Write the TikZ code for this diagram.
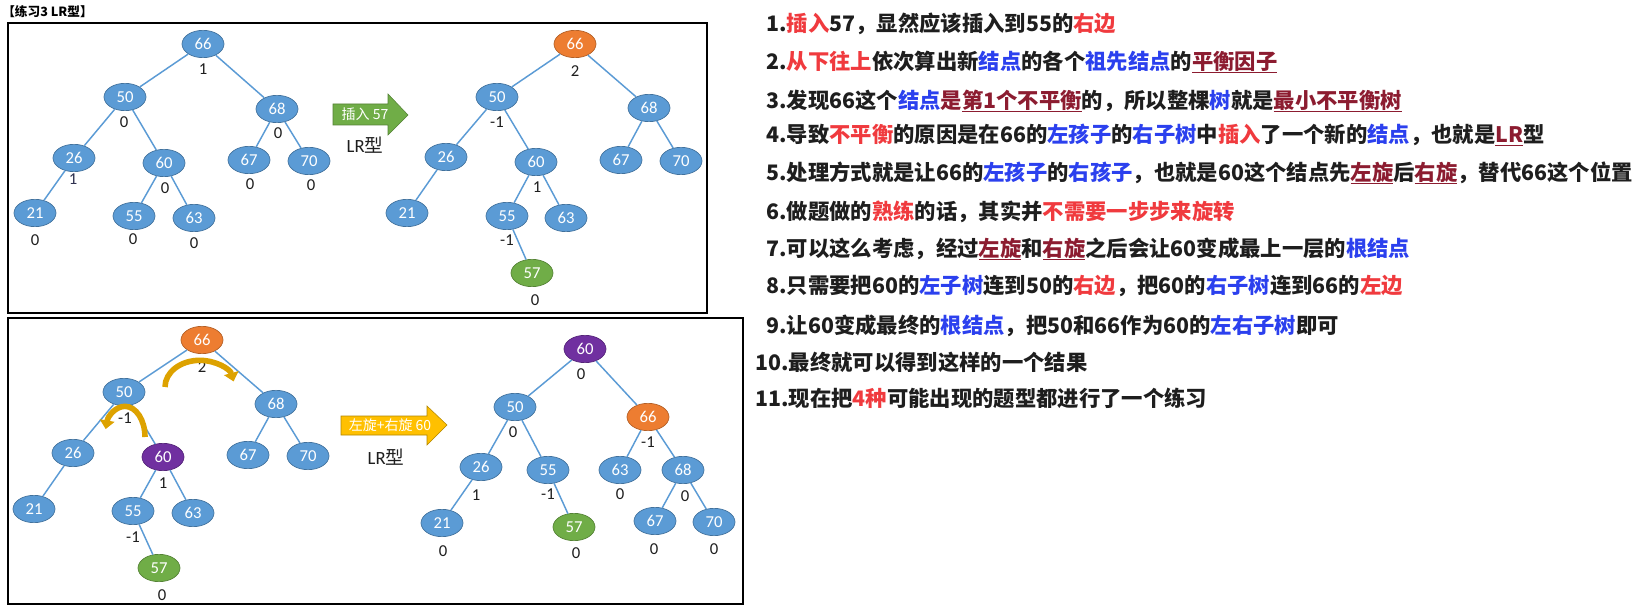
\documentclass[tikz,border=0pt]{standalone}
\usepackage{fontspec}
\setmainfont{Carlito}
\newfontfamily\cjk{Noto Sans CJK SC}
\usetikzlibrary{arrows.meta,shapes.geometric}

\definecolor{treeblue}{HTML}{5B9BD5}
\definecolor{treeline}{HTML}{41719C}
\definecolor{treeorange}{HTML}{ED7D31}
\definecolor{treegreen}{HTML}{70AD47}
\definecolor{treepurple}{HTML}{7030A0}
\definecolor{turngold}{HTML}{DDA200}
\definecolor{boxgold}{HTML}{FFC000}
\definecolor{hired}{HTML}{F03A3E}
\definecolor{hiblue}{HTML}{2B40EE}
\definecolor{hidark}{HTML}{8C1C30}
\definecolor{txtblack}{HTML}{1E1E1E}
\definecolor{txtnavy}{HTML}{2F3250}

\newcommand\hr[1]{\textcolor{hired}{#1}}
\newcommand\hb[1]{\textcolor{hiblue}{#1}}
\newcommand\hu[1]{\textcolor{hidark}{\setbox0\hbox{#1}\rlap{\raisebox{-2.8pt}{\rule{\wd0}{1.1pt}}}\box0}}

\begin{document}
\begin{tikzpicture}[x=0.75pt, y=-0.75pt,
    tnode/.style={ellipse, draw=treeline, line width=0.5pt, fill=treeblue, text=white,
      minimum width=31.5pt, minimum height=20.5pt, inner sep=0pt, font=\fontsize{12.5pt}{13pt}\selectfont},
    onode/.style={tnode, fill=treeorange, draw=treeorange!75!black},
    gnode/.style={tnode, fill=treegreen, draw=treegreen!75!black},
    pnode/.style={tnode, fill=treepurple, draw=treepurple!75!black},
    link/.style={draw=treeblue, line width=1.1pt},
    bal/.style={font=\fontsize{12.5pt}{13pt}\selectfont, text=txtblack, inner sep=0pt},
    turn/.style={draw=turngold, line width=4.2pt, -{Triangle[width=11pt,length=6.5pt]}},
    note/.style={anchor=west, inner sep=0pt, text=txtblack, font=\cjk\bfseries\fontsize{16pt}{18pt}\selectfont}]
\useasboundingbox (0,0) rectangle (1638,616);
\fill[white] (0,0) rectangle (1638,616);

% title and frames
\node[anchor=west, inner sep=0pt, font=\cjk\bfseries\fontsize{9.5pt}{10pt}\selectfont] (title) at (2,12) {【练习3 LR型】};
\draw[line width=0.9pt] (8,23) rectangle (707,313);
\draw[line width=0.9pt] (8,318) rectangle (743,604);

% tree before insertion
\node[tnode] (a66) at (203,44) {66};
\node[tnode] (a50) at (125,97) {50};
\node[tnode] (a68) at (277,109) {68};
\node[tnode] (a26) at (74,158) {26};
\node[tnode] (a60) at (164,163) {60};
\node[tnode] (a67) at (249,160) {67};
\node[tnode] (a70) at (309,161) {70};
\node[tnode] (a21) at (35,213) {21};
\node[tnode] (a55) at (134,216) {55};
\node[tnode] (a63) at (194,218) {63};
\node[bal] (a66b) at (203,69) {1};
\node[bal] (a50b) at (124,122) {0};
\node[bal] (a68b) at (278,133) {0};
\node[bal, text=txtnavy] (a26b) at (73,179) {1};
\node[bal] (a60b) at (165,188) {0};
\node[bal] (a67b) at (250,184) {0};
\node[bal] (a70b) at (311,185) {0};
\node[bal] (a21b) at (35,240) {0};
\node[bal] (a55b) at (133,239) {0};
\node[bal] (a63b) at (194,243) {0};
\draw[link] (a66) -- (a50);
\draw[link] (a66) -- (a68);
\draw[link] (a50) -- (a26);
\draw[link] (a50) -- (a60);
\draw[link] (a26) -- (a21);
\draw[link] (a60) -- (a55);
\draw[link] (a60) -- (a63);
\draw[link] (a68) -- (a67);
\draw[link] (a68) -- (a70);

% insert arrow
\fill[treegreen, draw=treegreen!75!black, line width=0.4pt] (333,104) -- (388,104) -- (388,94) -- (408,115) -- (388,135) -- (388,125) -- (333,125) -- cycle;
\node[text=white, inner sep=0pt, font=\cjk\fontsize{10.5pt}{11pt}\selectfont] (ins) at (365,114) {插入 57};
\node[inner sep=0pt, text=txtblack, font=\fontsize{14pt}{15pt}\selectfont] (lr1) at (365,145) {LR{\cjk 型}};

% tree after insertion
\node[onode] (b66) at (575,44) {66};
\node[tnode] (b50) at (497,97) {50};
\node[tnode] (b68) at (649,108) {68};
\node[tnode] (b26) at (446,157) {26};
\node[tnode] (b60) at (536,162) {60};
\node[tnode] (b67) at (621,160) {67};
\node[tnode] (b70) at (681,161) {70};
\node[tnode] (b21) at (407,213) {21};
\node[tnode] (b55) at (507,216) {55};
\node[tnode] (b63) at (566,218) {63};
\node[gnode] (b57) at (532,273) {57};
\node[bal] (b66b) at (575,71) {2};
\node[bal] (b50b) at (497,122) {-1};
\node[bal] (b60b) at (537,187) {1};
\node[bal] (b55b) at (507,240) {-1};
\node[bal] (b57b) at (535,300) {0};
\draw[link] (b66) -- (b50);
\draw[link] (b66) -- (b68);
\draw[link] (b50) -- (b26);
\draw[link] (b50) -- (b60);
\draw[link] (b26) -- (b21);
\draw[link] (b60) -- (b55);
\draw[link] (b60) -- (b63);
\draw[link] (b55) -- (b57);
\draw[link] (b68) -- (b67);
\draw[link] (b68) -- (b70);

% tree with rotations marked
\node[onode] (c66) at (202,340) {66};
\node[tnode] (c50) at (124,392) {50};
\node[tnode] (c68) at (276,404) {68};
\node[tnode] (c26) at (73,453) {26};
\node[pnode] (c60) at (163,457) {60};
\node[tnode] (c67) at (248,455) {67};
\node[tnode] (c70) at (308,456) {70};
\node[tnode] (c21) at (34,509) {21};
\node[tnode] (c55) at (133,511) {55};
\node[tnode] (c63) at (193,513) {63};
\node[gnode] (c57) at (159,568) {57};
\node[bal] (c66b) at (202,367) {2};
\node[bal] (c50b) at (125,418) {-1};
\node[bal] (c60b) at (163,483) {1};
\node[bal] (c55b) at (133,537) {-1};
\node[bal] (c57b) at (162,595) {0};
\draw[link] (c66) -- (c50);
\draw[link] (c66) -- (c68);
\draw[link] (c50) -- (c26);
\draw[link] (c50) -- (c60);
\draw[link] (c26) -- (c21);
\draw[link] (c60) -- (c55);
\draw[link] (c60) -- (c63);
\draw[link] (c55) -- (c57);
\draw[link] (c68) -- (c67);
\draw[link] (c68) -- (c70);
\draw[turn] (165,387) arc[start angle=180, end angle=12, x radius=26pt, y radius=20pt];
\draw[turn] (145,437) arc[start angle=0, end angle=165, x radius=15pt, y radius=23pt];

% rotate arrow
\fill[boxgold, draw=boxgold!70!black, line width=0.4pt] (341,416) -- (427,416) -- (427,406) -- (447,425) -- (427,445) -- (427,435) -- (341,435) -- cycle;
\node[text=white, inner sep=0pt, font=\cjk\fontsize{10.5pt}{11pt}\selectfont] (rot) at (390,425) {左旋+右旋 60};
\node[inner sep=0pt, text=txtblack, font=\fontsize{14pt}{15pt}\selectfont] (lr2) at (386,457) {LR{\cjk 型}};

% tree after rotation
\node[pnode] (d60) at (585,349) {60};
\node[tnode] (d50) at (515,407) {50};
\node[onode] (d66) at (648,417) {66};
\node[tnode] (d26) at (481,467) {26};
\node[tnode] (d55) at (548,470) {55};
\node[tnode] (d63) at (620,470) {63};
\node[tnode] (d68) at (683,470) {68};
\node[tnode] (d21) at (442,523) {21};
\node[gnode] (d57) at (574,527) {57};
\node[tnode] (d67) at (655,521) {67};
\node[tnode] (d70) at (714,522) {70};
\node[bal] (d60b) at (581,374) {0};
\node[bal] (d50b) at (513,432) {0};
\node[bal] (d66b) at (648,442) {-1};
\node[bal] (d26b) at (476,495) {1};
\node[bal] (d55b) at (548,494) {-1};
\node[bal] (d63b) at (620,494) {0};
\node[bal] (d68b) at (685,496) {0};
\node[bal] (d21b) at (443,551) {0};
\node[bal] (d57b) at (576,553) {0};
\node[bal] (d67b) at (654,549) {0};
\node[bal] (d70b) at (714,549) {0};
\draw[link] (d60) -- (d50);
\draw[link] (d60) -- (d66);
\draw[link] (d50) -- (d26);
\draw[link] (d50) -- (d55);
\draw[link] (d26) -- (d21);
\draw[link] (d55) -- (d57);
\draw[link] (d66) -- (d63);
\draw[link] (d66) -- (d68);
\draw[link] (d68) -- (d67);
\draw[link] (d68) -- (d70);

% notes
\node[note] (l1) at (766,24) {1.\hr{插入}57，显然应该插入到55的\hr{右边}};
\node[note] (l2) at (766,62) {2.\hr{从下往上}依次算出新\hb{结点}的各个\hb{祖先结点}的\hu{平衡因子}};
\node[note] (l3) at (766,101) {3.发现66这个\hb{结点}\textcolor{hidark}{是}\hu{第1个不平衡}的，所以整棵\hb{树}就是\hu{最小不平衡树}};
\node[note] (l4) at (766,135) {4.导致\hr{不平衡}的原因是在66的\hb{左孩子}的\hb{右子树}中\hr{插入}了一个新的\hb{结点}，也就是\hu{LR}型};
\node[note] (l5) at (766,173) {5.处理方式就是让66的\hb{左孩子}的\hb{右孩子}，也就是60这个结点先\hu{左旋}后\hu{右旋}，替代66这个位置};
\node[note] (l6) at (766,212) {6.做题做的\hr{熟练}的话，其实并\hr{不需要一步步来旋转}};
\node[note] (l7) at (766,249) {7.可以这么考虑，经过\hu{左旋}和\hu{右旋}之后会让60变成最上一层的\hb{根结点}};
\node[note] (l8) at (766,286) {8.只需要把60的\hb{左子树}连到50的\hr{右边}，把60的\hb{右子树}连到66的\hr{左边}};
\node[note] (l9) at (766,326) {9.让60变成最终的\hb{根结点}，把50和66作为60的\hb{左右子树}即可};
\node[note] (l10) at (755,362) {10.最终就可以得到这样的一个结果};
\node[note] (l11) at (755,398) {11.现在把\hr{4种}可能出现的题型都进行了一个练习};
\end{tikzpicture}
\end{document}
